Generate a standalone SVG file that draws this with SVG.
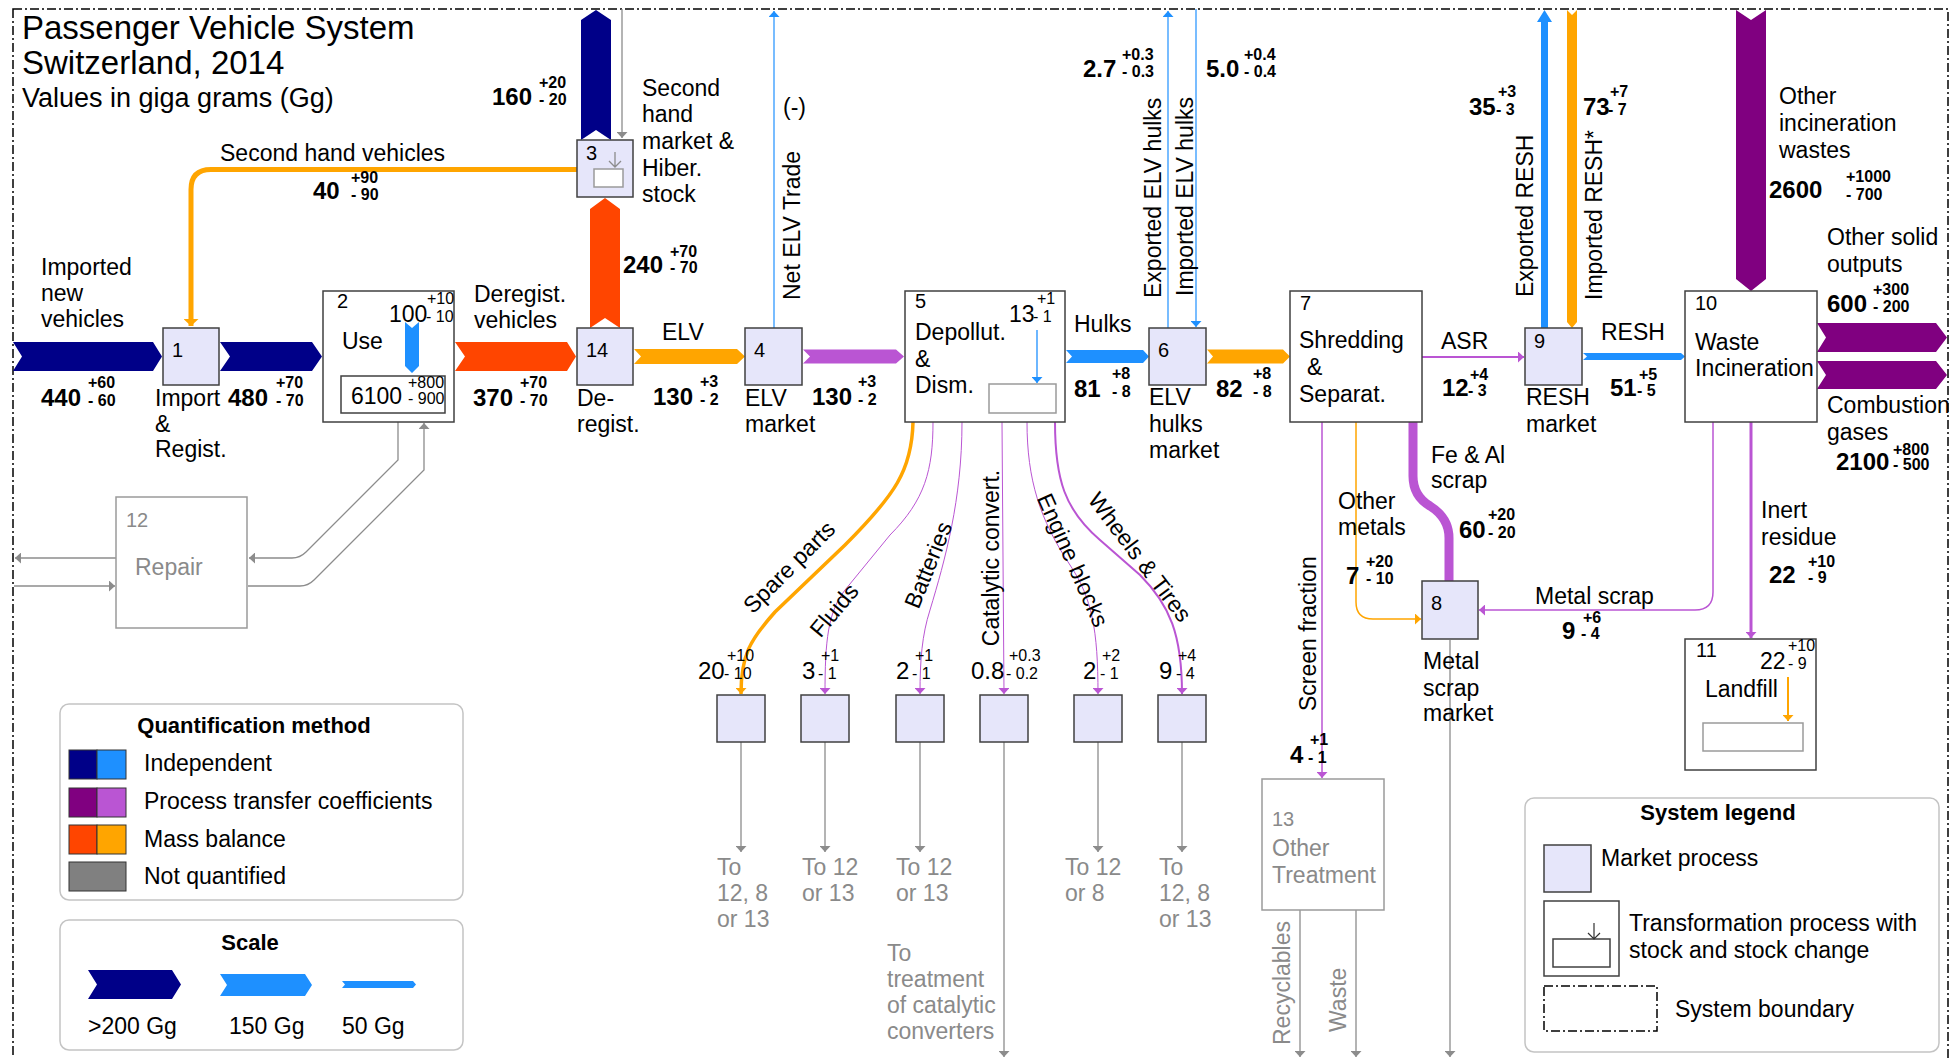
<svg xmlns="http://www.w3.org/2000/svg" width="1959" height="1058" viewBox="0 0 1959 1058">
<style>
text{font-family:"Liberation Sans",Arial,sans-serif;font-size:23px;fill:#000}
.v{font-weight:bold;font-size:24px}
.s{font-size:16px}
.sb{font-size:16px;font-weight:bold}
.n{font-size:20px}
.g{fill:#8a8a8a}
.h{font-weight:bold;font-size:22px}
.mkt{fill:#e6e6fa;stroke:#404040;stroke-width:1.5}
.trf{fill:#fff;stroke:#404040;stroke-width:1.5}
.stk{fill:#fff;stroke:#9a9a9a;stroke-width:1.5}
.gbox{fill:#fff;stroke:#9a9a9a;stroke-width:1.5}
.gl{fill:none;stroke:#8c8c8c;stroke-width:1.3}
.pl{fill:none;stroke:#ba55d3}
.ol{fill:none;stroke:#ffa500}
.bl{fill:none;stroke:#1e90ff}
.leg{fill:#fff;stroke:#c4c4c4;stroke-width:1.5}
.navy{fill:#000088}
.blue{fill:#1e90ff}
.purp{fill:#800080}
.orch{fill:#ba55d3}
.ored{fill:#ff4500}
.orng{fill:#ffa500}
</style>
<defs>
<marker id="ag" viewBox="0 0 6 11" refX="6" refY="5.5" markerWidth="6" markerHeight="11" orient="auto" markerUnits="userSpaceOnUse"><path d="M0,0L6,5.5L0,11z" fill="#8c8c8c"/></marker>
<marker id="ap" viewBox="0 0 6 11" refX="6" refY="5.5" markerWidth="6" markerHeight="11" orient="auto" markerUnits="userSpaceOnUse"><path d="M0,0L6,5.5L0,11z" fill="#ba55d3"/></marker>
<marker id="ao" viewBox="0 0 6 11" refX="6" refY="5.5" markerWidth="6" markerHeight="11" orient="auto" markerUnits="userSpaceOnUse"><path d="M0,0L6,5.5L0,11z" fill="#ffa500"/></marker>
<marker id="aol" viewBox="0 0 7 15" refX="7" refY="7.5" markerWidth="7" markerHeight="15" orient="auto" markerUnits="userSpaceOnUse"><path d="M0,0L7,7.5L0,15z" fill="#ffa500"/></marker>
<marker id="ab" viewBox="0 0 6 11" refX="6" refY="5.5" markerWidth="6" markerHeight="11" orient="auto" markerUnits="userSpaceOnUse"><path d="M0,0L6,5.5L0,11z" fill="#1e90ff"/></marker>
</defs>
<rect width="1959" height="1058" fill="#fff"/>

<g id="boundary">
<rect x="13" y="9" width="1935" height="1070" fill="none" stroke="#000" stroke-width="1.5" stroke-dasharray="9 3 2 3"/>
</g>

<g id="title">
<text x="22" y="39" style="font-size:33px">Passenger Vehicle System</text>
<text x="22" y="74" style="font-size:33px">Switzerland, 2014</text>
<text x="22" y="107" style="font-size:27px">Values in giga grams (Gg)</text>
</g>

<g id="connectors">
<polygon class="navy" points="13,342 153,342 162,356.5 153,371 13,371 22,356.5"/>
<polygon class="navy" points="220,342 312,342 322,356.5 312,371 220,371 230,356.5"/>
<polygon class="ored" points="455,342 567,342 576,356.5 567,371 455,371 465,356.5"/>
<polygon class="ored" points="590,328 605,318 620,328 620,209 605,198 590,209"/>
<polygon class="navy" points="581,140 596,130 611,140 611,20 596,10 581,20"/>
<polygon class="orng" points="634,349 737,349 745,356.5 737,364 634,364 641,356.5"/>
<polygon class="orch" points="803,349.5 896,349.5 904,356.5 896,363.5 803,363.5 810,356.5"/>
<polygon class="blue" points="1066,350 1143,350 1149,356.5 1143,363 1066,363 1072,356.5"/>
<polygon class="orng" points="1207,349.5 1283,349.5 1290,356.5 1283,363.5 1207,363.5 1213,356.5"/>
<polygon class="blue" points="1583,353 1681,353 1685,356.5 1681,360 1583,360 1587,356.5"/>
<polygon class="blue" points="1541,328 1541,22 1537,22 1544.5,10 1552,22 1548,22 1548,328"/>
<polygon class="orng" points="1567,10 1572,15 1577,10 1577,322 1572,328 1567,322"/>
<polygon class="purp" points="1736,10 1751,20 1766,10 1766,279 1751,291 1736,279"/>
<polygon class="purp" points="1817,323 1936,323 1947,337.5 1936,352 1817,352 1826,337.5"/>
<polygon class="purp" points="1817,361 1936,361 1947,375 1936,389 1817,389 1826,375"/>
<path class="ol" stroke-width="5" d="M577,169.5H211Q191,169.5 191,189.5V326" marker-end="url(#aol)"/>
<path class="gl" d="M622,9V138" marker-end="url(#ag)"/>
<path class="bl" stroke-width="1.2" d="M774,328V11" marker-end="url(#ab)"/>
<path class="bl" stroke-width="1.2" d="M1168,328V11" marker-end="url(#ab)"/>
<path class="bl" stroke-width="1.2" d="M1196,9V327" marker-end="url(#ab)"/>
<path class="pl" stroke-width="2" d="M1422,357H1524" marker-end="url(#ap)"/>
<path class="pl" stroke-width="1.5" d="M1322,422V778" marker-end="url(#ap)"/>
<path class="ol" stroke-width="1.5" d="M1356,422V602Q1356,619 1373,619H1421" marker-end="url(#ao)"/>
<path class="pl" stroke-width="9" d="M1413,422V476Q1413,496 1430,506Q1449,518 1449,538V581"/>
<path class="pl" stroke-width="1.5" d="M1713,422V592Q1713,610 1695,610H1479" marker-end="url(#ap)"/>
<path class="pl" stroke-width="3" d="M1751,422V638" marker-end="url(#ap)"/>
<path class="ol" stroke-width="3.5" d="M913,422C912,470 895,495 845,545L775,612C750,640 741,655 741,694" marker-end="url(#ao)"/>
<path class="pl" stroke-width="1" d="M933,422C933,470 925,500 890,535L845,590C828,612 825,640 825,694" marker-end="url(#ap)"/>
<path class="pl" stroke-width="1" d="M962,422C962,500 945,560 930,610C922,635 920,660 920,694" marker-end="url(#ap)"/>
<path class="pl" stroke-width="1" d="M1002,422L1004,694" marker-end="url(#ap)"/>
<path class="pl" stroke-width="1" d="M1027,422C1027,480 1040,520 1070,565C1092,598 1098,630 1098,694" marker-end="url(#ap)"/>
<path class="pl" stroke-width="2" d="M1055,422C1055,480 1065,510 1100,540L1140,575C1170,605 1182,635 1182,694" marker-end="url(#ap)"/>
<path class="gl" d="M741,742V852" marker-end="url(#ag)"/>
<path class="gl" d="M825,742V852" marker-end="url(#ag)"/>
<path class="gl" d="M920,742V852" marker-end="url(#ag)"/>
<path class="gl" d="M1004,742V1057" marker-end="url(#ag)"/>
<path class="gl" d="M1098,742V852" marker-end="url(#ag)"/>
<path class="gl" d="M1182,742V852" marker-end="url(#ag)"/>
<path class="gl" d="M1450,640V1057" marker-end="url(#ag)"/>
<path class="gl" d="M1300,910V1057" marker-end="url(#ag)"/>
<path class="gl" d="M1356,910V1057" marker-end="url(#ag)"/>
<path class="gl" d="M398,422V460L306,552Q300,558 292,558H249" marker-end="url(#ag)"/>
<path class="gl" d="M248,586H300Q308,586 314,580L424,470V423" marker-end="url(#ag)"/>
<path class="gl" d="M116,558H15" marker-end="url(#ag)"/>
<path class="gl" d="M14,586H115" marker-end="url(#ag)"/>
</g>

<g id="flow-labels">
<text x="41" y="275">Imported</text><text x="41" y="301">new</text><text x="41" y="327">vehicles</text>
<text x="41" y="406" class="v">440</text><text x="88" y="388" class="sb">+60</text><text x="88" y="406" class="sb">- 60</text>
<text x="228" y="406" class="v">480</text><text x="276" y="388" class="sb">+70</text><text x="276" y="406" class="sb">- 70</text>
<text x="220" y="161">Second hand vehicles</text>
<text x="313" y="199" class="v">40</text><text x="351" y="183" class="sb">+90</text><text x="351" y="200" class="sb">- 90</text>
<text x="474" y="302">Deregist.</text><text x="474" y="328">vehicles</text>
<text x="473" y="406" class="v">370</text><text x="520" y="388" class="sb">+70</text><text x="520" y="406" class="sb">- 70</text>
<text x="623" y="273" class="v">240</text><text x="670" y="257" class="sb">+70</text><text x="670" y="273" class="sb">- 70</text>
<text x="492" y="105" class="v">160</text><text x="539" y="88" class="sb">+20</text><text x="539" y="105" class="sb">- 20</text>
<text x="662" y="340">ELV</text>
<text x="653" y="405" class="v">130</text><text x="700" y="387" class="sb">+3</text><text x="700" y="405" class="sb">- 2</text>
<text x="812" y="405" class="v">130</text><text x="858" y="387" class="sb">+3</text><text x="858" y="405" class="sb">- 2</text>
<text x="783" y="115">(-)</text>
<text transform="translate(800,300) rotate(-90)">Net ELV Trade</text>
<text x="1074" y="332">Hulks</text>
<text x="1074" y="397" class="v">81</text><text x="1112" y="379" class="sb">+8</text><text x="1112" y="397" class="sb">- 8</text>
<text x="1216" y="397" class="v">82</text><text x="1253" y="379" class="sb">+8</text><text x="1253" y="397" class="sb">- 8</text>
<text transform="translate(1161,298) rotate(-90)">Exported ELV hulks</text>
<text transform="translate(1193,296) rotate(-90)">Imported ELV hulks</text>
<text x="1083" y="77" class="v">2.7</text><text x="1122" y="60" class="sb">+0.3</text><text x="1122" y="77" class="sb">- 0.3</text>
<text x="1206" y="77" class="v">5.0</text><text x="1244" y="60" class="sb">+0.4</text><text x="1244" y="77" class="sb">- 0.4</text>
<text x="1441" y="349">ASR</text>
<text x="1442" y="396" class="v">12</text><text x="1470" y="380" class="sb">+4</text><text x="1468" y="396" class="sb">- 3</text>
<text x="1601" y="340">RESH</text>
<text x="1610" y="396" class="v">51</text><text x="1639" y="380" class="sb">+5</text><text x="1637" y="396" class="sb">- 5</text>
<text transform="translate(1533,297) rotate(-90)">Exported RESH</text>
<text transform="translate(1602,300) rotate(-90)">Imported RESH*</text>
<text x="1469" y="115" class="v">35</text><text x="1498" y="97" class="sb">+3</text><text x="1496" y="115" class="sb">- 3</text>
<text x="1583" y="115" class="v">73</text><text x="1610" y="97" class="sb">+7</text><text x="1608" y="115" class="sb">- 7</text>
<text x="1779" y="104">Other</text><text x="1779" y="131">incineration</text><text x="1779" y="158">wastes</text>
<text x="1769" y="198" class="v">2600</text><text x="1846" y="182" class="sb">+1000</text><text x="1846" y="200" class="sb">- 700</text>
<text x="1827" y="245">Other solid</text><text x="1827" y="272">outputs</text>
<text x="1827" y="312" class="v">600</text><text x="1873" y="295" class="sb">+300</text><text x="1873" y="312" class="sb">- 200</text>
<text x="1827" y="413">Combustion</text><text x="1827" y="440">gases</text>
<text x="1836" y="470" class="v">2100</text><text x="1893" y="455" class="sb">+800</text><text x="1893" y="470" class="sb">- 500</text>
<text x="1431" y="463">Fe &amp; Al</text><text x="1431" y="488">scrap</text>
<text x="1459" y="538" class="v">60</text><text x="1488" y="520" class="sb">+20</text><text x="1488" y="538" class="sb">- 20</text>
<text x="1338" y="509">Other</text><text x="1338" y="535">metals</text>
<text x="1346" y="584" class="v">7</text><text x="1366" y="567" class="sb">+20</text><text x="1366" y="584" class="sb">- 10</text>
<text x="1535" y="604">Metal scrap</text>
<text x="1562" y="639" class="v">9</text><text x="1583" y="623" class="sb">+6</text><text x="1581" y="639" class="sb">- 4</text>
<text x="1761" y="518">Inert</text><text x="1761" y="545">residue</text>
<text x="1769" y="583" class="v">22</text><text x="1808" y="567" class="sb">+10</text><text x="1808" y="583" class="sb">- 9</text>
<text transform="translate(1316,711) rotate(-90)">Screen fraction</text>
<text x="1290" y="763" class="v">4</text><text x="1310" y="745" class="sb">+1</text><text x="1308" y="763" class="sb">- 1</text>
<text transform="translate(1290,1045) rotate(-90)" class="g">Recyclables</text>
<text transform="translate(1346,1032) rotate(-90)" class="g">Waste</text>
<text transform="translate(789,567) rotate(-45)" text-anchor="middle" dy="0.35em">Spare parts</text>
<text transform="translate(834,610) rotate(-50)" text-anchor="middle" dy="0.35em">Fluids</text>
<text transform="translate(928,565) rotate(-68)" text-anchor="middle" dy="0.35em">Batteries</text>
<text transform="translate(999,558) rotate(-90)" text-anchor="middle">Catalytic convert.</text>
<text transform="translate(1073,560) rotate(66)" text-anchor="middle" dy="0.35em">Engine blocks</text>
<text transform="translate(1140,557) rotate(53)" text-anchor="middle" dy="0.35em">Wheels &amp; Tires</text>
<text x="698" y="679" style="font-size:24px">20</text><text x="727" y="661" class="s">+10</text><text x="724" y="679" class="s">- 10</text>
<text x="802" y="679" style="font-size:24px">3</text><text x="821" y="661" class="s">+1</text><text x="818" y="679" class="s">- 1</text>
<text x="896" y="679" style="font-size:24px">2</text><text x="915" y="661" class="s">+1</text><text x="912" y="679" class="s">- 1</text>
<text x="971" y="679" style="font-size:24px">0.8</text><text x="1009" y="661" class="s">+0.3</text><text x="1006" y="679" class="s">- 0.2</text>
<text x="1083" y="679" style="font-size:24px">2</text><text x="1102" y="661" class="s">+2</text><text x="1100" y="679" class="s">- 1</text>
<text x="1159" y="679" style="font-size:24px">9</text><text x="1178" y="661" class="s">+4</text><text x="1176" y="679" class="s">- 4</text>
<text x="717" y="875" class="g">To</text><text x="717" y="901" class="g">12, 8</text><text x="717" y="927" class="g">or 13</text>
<text x="802" y="875" class="g">To 12</text><text x="802" y="901" class="g">or 13</text>
<text x="896" y="875" class="g">To 12</text><text x="896" y="901" class="g">or 13</text>
<text x="1065" y="875" class="g">To 12</text><text x="1065" y="901" class="g">or 8</text>
<text x="1159" y="875" class="g">To</text><text x="1159" y="901" class="g">12, 8</text><text x="1159" y="927" class="g">or 13</text>
<text x="887" y="961" class="g">To</text><text x="887" y="987" class="g">treatment</text><text x="887" y="1013" class="g">of catalytic</text><text x="887" y="1039" class="g">converters</text>
</g>

<g id="node-1"><rect class="mkt" x="163" y="328" width="56" height="57"/><text x="172" y="357" class="n">1</text>
<text x="155" y="406">Import</text><text x="155" y="432">&amp;</text><text x="155" y="457">Regist.</text></g>

<g id="node-2"><rect class="trf" x="323" y="291" width="131" height="131"/><rect class="trf" x="341" y="376" width="104" height="37"/>
<text x="337" y="308" class="n">2</text><text x="342" y="349">Use</text>
<polygon class="blue" points="405,322 412,328 419,322 419,366 412,373 405,366"/>
<text x="389" y="322">100</text><text x="427" y="304" class="s">+10</text><text x="426" y="322" class="s">- 10</text>
<text x="351" y="404">6100</text><text x="408" y="388" class="s">+800</text><text x="408" y="404" class="s">- 900</text></g>

<g id="node-3"><rect class="mkt" x="577" y="140" width="56" height="57"/><text x="586" y="160" class="n">3</text>
<rect class="stk" x="594" y="169" width="29" height="18"/>
<path d="M615,152V167M609,161L615,167L621,161" fill="none" stroke="#8c8c8c" stroke-width="1.3"/>
<text x="642" y="96">Second</text><text x="642" y="122">hand</text><text x="642" y="149">market &amp;</text><text x="642" y="176">Hiber.</text><text x="642" y="202">stock</text></g>

<g id="node-14"><rect class="mkt" x="577" y="328" width="56" height="57"/><text x="586" y="357" class="n">14</text>
<text x="577" y="406">De-</text><text x="577" y="432">regist.</text></g>

<g id="node-4"><rect class="mkt" x="745" y="328" width="57" height="57"/><text x="754" y="357" class="n">4</text>
<text x="745" y="406">ELV</text><text x="745" y="432">market</text></g>

<g id="node-5"><rect class="trf" x="905" y="291" width="160" height="131"/><rect class="stk" x="989" y="384" width="67" height="29"/>
<text x="915" y="308" class="n">5</text><text x="915" y="340">Depollut.</text><text x="915" y="367">&amp;</text><text x="915" y="393">Dism.</text>
<path class="bl" stroke-width="1.3" d="M1037,330V383" marker-end="url(#ab)"/>
<text x="1009" y="322">13</text><text x="1037" y="304" class="s">+1</text><text x="1033" y="322" class="s">- 1</text></g>

<g id="node-6"><rect class="mkt" x="1149" y="328" width="57" height="57"/><text x="1158" y="357" class="n">6</text>
<text x="1149" y="405">ELV</text><text x="1149" y="432">hulks</text><text x="1149" y="458">market</text></g>

<g id="node-7"><rect class="trf" x="1290" y="291" width="132" height="131"/><text x="1300" y="310" class="n">7</text>
<text x="1299" y="348">Shredding</text><text x="1307" y="375">&amp;</text><text x="1299" y="402">Separat.</text></g>

<g id="node-8"><rect class="mkt" x="1422" y="581" width="56" height="58"/><text x="1431" y="610" class="n">8</text>
<text x="1423" y="669">Metal</text><text x="1423" y="696">scrap</text><text x="1423" y="721">market</text></g>

<g id="node-9"><rect class="mkt" x="1525" y="328" width="57" height="57"/><text x="1534" y="348" class="n">9</text>
<text x="1526" y="405">RESH</text><text x="1526" y="432">market</text></g>

<g id="node-10"><rect class="trf" x="1685" y="291" width="132" height="131"/><text x="1695" y="310" class="n">10</text>
<text x="1695" y="350">Waste</text><text x="1695" y="376">Incineration</text></g>

<g id="node-11"><rect class="trf" x="1685" y="639" width="131" height="131"/><rect class="stk" x="1703" y="723" width="100" height="28"/>
<text x="1696" y="657" class="n">11</text><text x="1705" y="697">Landfill</text>
<path class="ol" stroke-width="2" d="M1788,677V721" marker-end="url(#ao)"/>
<text x="1760" y="669">22</text><text x="1788" y="651" class="s">+10</text><text x="1788" y="669" class="s">- 9</text></g>

<g id="node-12"><rect class="gbox" x="116" y="497" width="131" height="131"/>
<text x="126" y="527" class="n g">12</text><text x="135" y="575" class="g">Repair</text></g>

<g id="node-13"><rect class="gbox" x="1262" y="779" width="122" height="131"/>
<text x="1272" y="826" class="n g">13</text><text x="1272" y="856" class="g">Other</text><text x="1272" y="883" class="g">Treatment</text></g>

<g id="node-m1"><rect class="mkt" x="717" y="695" width="48" height="47"/></g>
<g id="node-m2"><rect class="mkt" x="801" y="695" width="48" height="47"/></g>
<g id="node-m3"><rect class="mkt" x="896" y="695" width="48" height="47"/></g>
<g id="node-m4"><rect class="mkt" x="980" y="695" width="48" height="47"/></g>
<g id="node-m5"><rect class="mkt" x="1074" y="695" width="48" height="47"/></g>
<g id="node-m6"><rect class="mkt" x="1158" y="695" width="48" height="47"/></g>

<g id="legend-quantification">
<rect class="leg" x="60" y="704" width="403" height="196" rx="9"/>
<text x="254" y="733" class="h" text-anchor="middle">Quantification method</text>
<rect x="69" y="750" width="28" height="29" fill="#000088" stroke="#333"/><rect x="97" y="750" width="29" height="29" fill="#1e90ff" stroke="#333"/>
<rect x="69" y="788" width="28" height="29" fill="#800080" stroke="#333"/><rect x="97" y="788" width="29" height="29" fill="#ba55d3" stroke="#333"/>
<rect x="69" y="825" width="28" height="29" fill="#ff4500" stroke="#333"/><rect x="97" y="825" width="29" height="29" fill="#ffa500" stroke="#333"/>
<rect x="69" y="862" width="57" height="29" fill="#808080" stroke="#333"/>
<text x="144" y="771">Independent</text>
<text x="144" y="809">Process transfer coefficients</text>
<text x="144" y="847">Mass balance</text>
<text x="144" y="884">Not quantified</text>
</g>

<g id="legend-scale">
<rect class="leg" x="60" y="920" width="403" height="130" rx="9"/>
<text x="250" y="950" class="h" text-anchor="middle">Scale</text>
<polygon class="navy" points="88,970 172,970 181,984.5 172,999 88,999 97,984.5"/>
<polygon class="blue" points="220,974 305,974 312,985 305,996 220,996 227,985"/>
<polygon class="blue" points="342,981 413,981 416,984.5 413,988 342,988 345,984.5"/>
<text x="88" y="1034">&gt;200 Gg</text><text x="229" y="1034">150 Gg</text><text x="342" y="1034">50 Gg</text>
</g>

<g id="legend-system">
<rect class="leg" x="1525" y="798" width="414" height="254" rx="9"/>
<text x="1718" y="820" class="h" text-anchor="middle">System legend</text>
<rect class="mkt" x="1544" y="845" width="47" height="47"/>
<text x="1601" y="866">Market process</text>
<rect class="trf" x="1544" y="901" width="75" height="75"/>
<rect class="trf" x="1553" y="939" width="57" height="28"/>
<path d="M1594,923V939M1588,933L1594,939L1600,933" fill="none" stroke="#333" stroke-width="1.2"/>
<text x="1629" y="931">Transformation process with</text>
<text x="1629" y="958">stock and stock change</text>
<rect x="1544" y="986" width="113" height="45" fill="none" stroke="#000" stroke-width="1.5" stroke-dasharray="9 3 2 3"/>
<text x="1675" y="1017">System boundary</text>
</g>
</svg>
